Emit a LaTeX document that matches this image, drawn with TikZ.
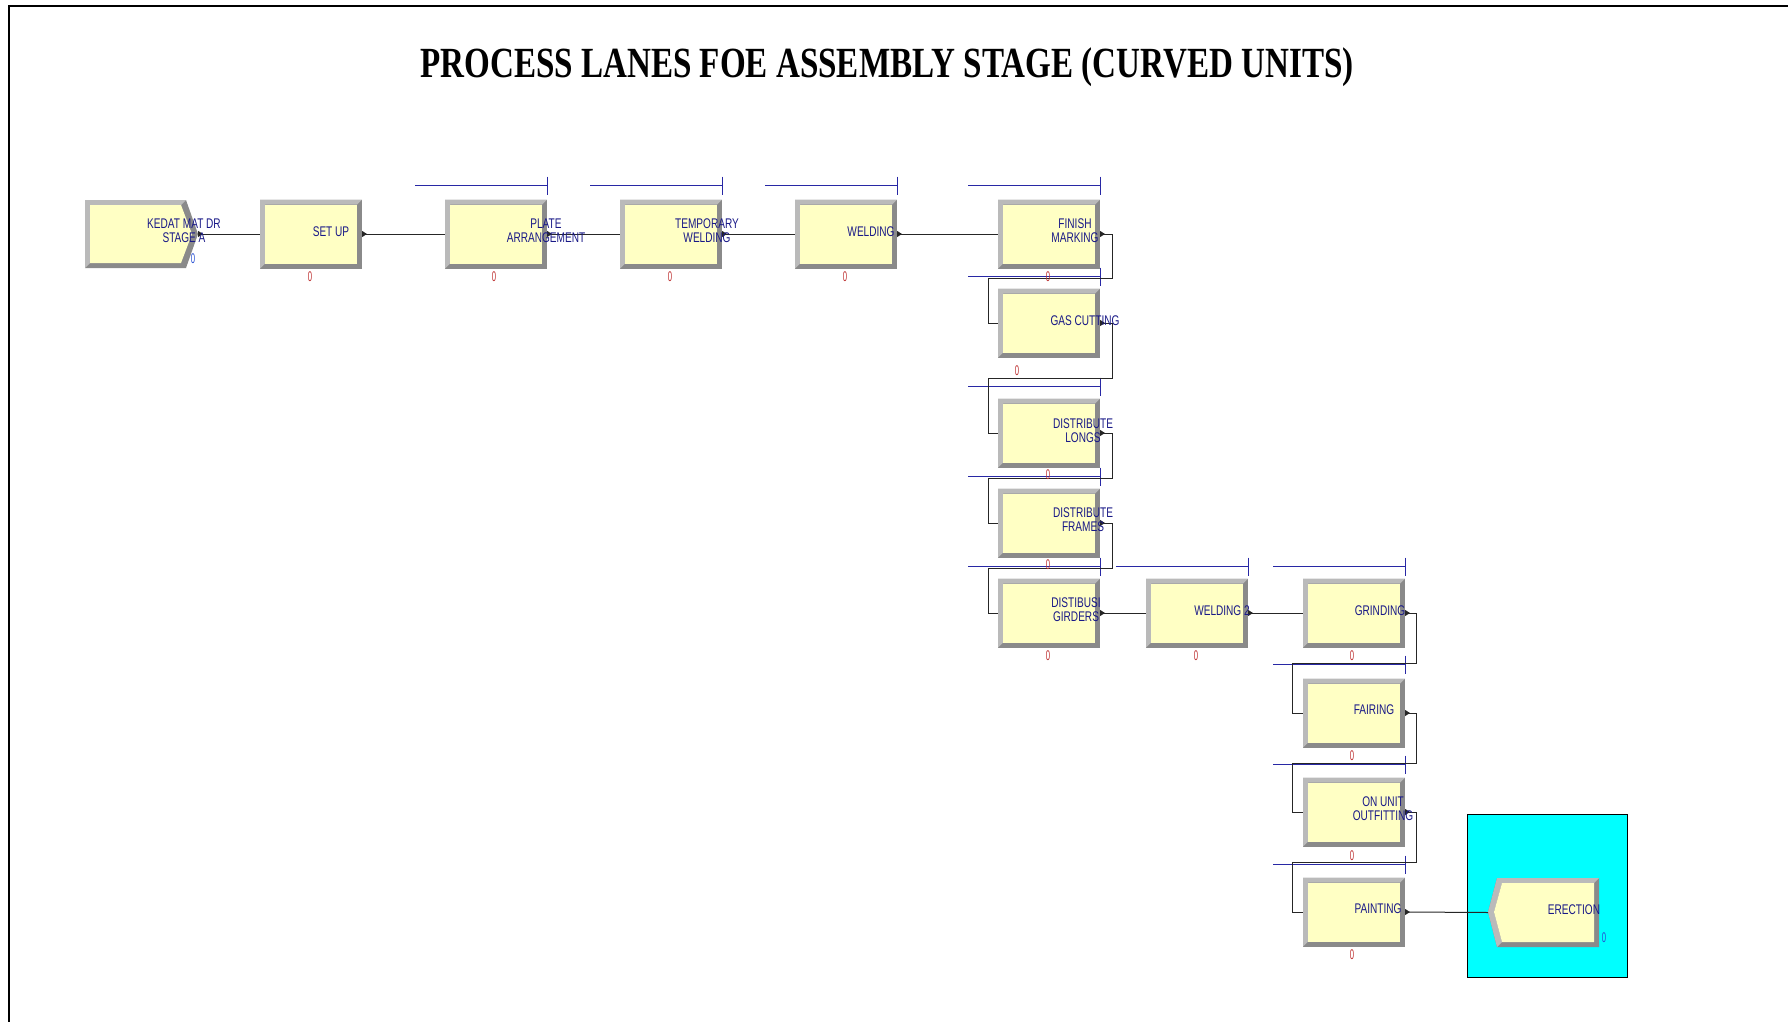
\documentclass[tikz,border=0pt]{standalone}
\usepackage{fontspec}
\setmainfont{Liberation Serif}
\newfontfamily\arenafont[FakeStretch=0.72]{Liberation Sans}
\newfontfamily\cntfont[FakeStretch=0.55]{Liberation Sans}
\newfontfamily\titlefont[FakeStretch=0.77]{Liberation Serif}
\usetikzlibrary{arrows.meta,calc}
\definecolor{boxyellow}{RGB}{255,255,196}
\definecolor{bevlight}{RGB}{186,186,186}
\definecolor{bevdark}{RGB}{138,138,138}
\definecolor{qblue}{RGB}{40,40,165}
\definecolor{txtnavy}{RGB}{25,25,135}
\definecolor{cntred}{RGB}{190,50,50}
\definecolor{cntblue}{RGB}{40,80,210}
\definecolor{dispcyan}{RGB}{0,255,255}
\begin{document}
\begin{tikzpicture}[x=1pt,y=-1pt,line join=miter,
	procbox/.style={rectangle,minimum width=102pt,minimum height=69pt,inner sep=0pt,outer sep=0pt,fill=bevdark,
		path picture={
			\path (path picture bounding box.south west) coordinate (bbsw)
			(path picture bounding box.north east) coordinate (bbne)
			(bbsw |- bbne) coordinate (bbnw);
			\fill[bevlight] (bbsw) -- (bbnw) -- (bbne) -- ([xshift=-5pt,yshift=-5pt]bbne)
			-- ([xshift=5pt,yshift=-5pt]bbnw) -- ([xshift=5pt,yshift=5pt]bbsw) -- cycle;
			\fill[boxyellow] ([xshift=5pt,yshift=5pt]bbsw) rectangle ([xshift=-5pt,yshift=-5pt]bbne);
	}},
	endbox/.style={rectangle,inner sep=0pt,outer sep=0pt},
	lbl/.style={font=\arenafont\fontsize{14}{14}\selectfont,text=txtnavy,align=center,inner sep=0pt},
	cnt/.style={font=\cntfont\fontsize{14}{14}\selectfont,text=cntred,inner sep=0pt},
	qline/.style={draw=qblue,line width=1pt},
	link/.style={draw=black!85,line width=1pt,{Triangle[reversed,length=5pt,width=6pt]}-}]
	\useasboundingbox (0,0) rectangle (1788,1022);
	\draw[line width=1.5pt] (9,1022) -- (9,6) -- (1788,6);
	\node[font=\titlefont\bfseries\fontsize{43}{43}\selectfont,anchor=base,inner sep=0pt] (title) at (887,78)
	{PROCESS LANES FOE ASSEMBLY STAGE (CURVED UNITS)};
	% Create
	\fill[bevdark] (85,200) -- (186,200) -- (198,234) -- (186,268) -- (85,268) -- cycle;
	\fill[bevlight] (85,200) -- (186,200) -- (181,205) -- (90,205) -- (90,263) -- (85,268) -- cycle;
	\fill[boxyellow] (90,205) -- (181,205) -- (192,234) -- (181,263) -- (90,263) -- cycle;
	\node[endbox,minimum width=113pt,minimum height=68pt] (kedat) at (141.5,234) {};
	% Process
	\node[procbox] (setup) at (311,234) {};
	\node[procbox] (plate) at (496,234) {};
	\node[procbox] (temp) at (671,234) {};
	\node[procbox] (weld) at (846,234) {};
	\node[procbox] (finish) at (1049,234) {};
	\node[procbox] (gas) at (1049,323) {};
	\node[procbox] (longs) at (1049,433) {};
	\node[procbox] (frames) at (1049,523) {};
	\node[procbox] (gird) at (1049,613) {};
	\node[procbox] (weld2) at (1197,613) {};
	\node[procbox] (grind) at (1354,613) {};
	\node[procbox] (fair) at (1354,713) {};
	\node[procbox] (onunit) at (1354,812) {};
	\node[procbox] (paint) at (1354,912) {};
	% Dispose
	\draw[fill=dispcyan,line width=1pt] (1467,814) rectangle (1627,977);
	\fill[bevdark] (1497,878) -- (1599,878) -- (1599,947) -- (1497,947) -- (1488,912) -- cycle;
	\fill[bevlight] (1497,878) -- (1599,878) -- (1594,883) -- (1502,883) -- (1494,912) -- (1502,942) -- (1497,947) -- (1488,912) -- cycle;
	\fill[boxyellow] (1502,883) -- (1594,883) -- (1594,942) -- (1502,942) -- (1494,912) -- cycle;
	\node[endbox,minimum width=111pt,minimum height=69pt] (erect) at (1543.5,912.5) {};
	% Queue
	\draw[qline] (plate.north east) ++(-132,-14) -- ++(132,0) ++(0,-9) -- ++(0,18);
	\draw[qline] (temp.north east) ++(-132,-14) -- ++(132,0) ++(0,-9) -- ++(0,18);
	\draw[qline] (weld.north east) ++(-132,-14) -- ++(132,0) ++(0,-9) -- ++(0,18);
	\draw[qline] (finish.north east) ++(-132,-14) -- ++(132,0) ++(0,-9) -- ++(0,18);
	\draw[qline] (gas.north east) ++(-132,-12) -- ++(132,0) ++(0,-9) -- ++(0,18);
	\draw[qline] (longs.north east) ++(-132,-12) -- ++(132,0) ++(0,-9) -- ++(0,18);
	\draw[qline] (frames.north east) ++(-132,-12) -- ++(132,0) ++(0,-9) -- ++(0,18);
	\draw[qline] (gird.north east) ++(-132,-12) -- ++(132,0) ++(0,-9) -- ++(0,18);
	\draw[qline] (weld2.north east) ++(-132,-12) -- ++(132,0) ++(0,-9) -- ++(0,18);
	\draw[qline] (grind.north east) ++(-132,-12) -- ++(132,0) ++(0,-9) -- ++(0,18);
	\draw[qline] (fair.north east) ++(-132,-14) -- ++(132,0) ++(0,-9) -- ++(0,18);
	\draw[qline] (onunit.north east) ++(-132,-13) -- ++(132,0) ++(0,-9) -- ++(0,18);
	\draw[qline] (paint.north east) ++(-132,-13) -- ++(132,0) ++(0,-9) -- ++(0,18);
	% Connect
	\draw[link] (kedat.east) -- (setup.west);
	\draw[link] (setup.east) -- (plate.west);
	\draw[link] (plate.east) -- (temp.west);
	\draw[link] (temp.east) -- (weld.west);
	\draw[link] (weld.east) -- (finish.west);
	\draw[link] (finish.east) -- ++(12,0) |- ++(-124,44) |- (gas.west);
	\draw[link] (gas.east) -- ++(12,0) |- ++(-124,55) |- (longs.west);
	\draw[link] (longs.east) -- ++(12,0) |- ++(-124,45) |- (frames.west);
	\draw[link] (frames.east) -- ++(12,0) |- ++(-124,45) |- (gird.west);
	\draw[link] (gird.east) -- (weld2.west);
	\draw[link] (weld2.east) -- (grind.west);
	\draw[link] (grind.east) -- ++(11,0) |- ++(-124,50) |- (fair.west);
	\draw[link] (fair.east) -- ++(11,0) |- ++(-124,50) |- (onunit.west);
	\draw[link] (onunit.east) -- ++(11,0) |- ++(-124,50) |- (paint.west);
	\draw[link] (paint.east) -- (erect.west);
	% Labels
	\node[lbl] (kedatT) at (184,231) {KEDAT MAT DR\\STAGE A};
	\node[lbl] (setupT) at (331,232) {SET UP};
	\node[lbl] (plateT) at (546,231) {PLATE\\ARRANGEMENT};
	\node[lbl] (tempT) at (707,231) {TEMPORARY\\WELDING};
	\node[lbl] (weldT) at (871,232) {WELDING};
	\node[lbl] (finishT) at (1075,231) {FINISH\\MARKING};
	\node[lbl] (gasT) at (1085,321) {GAS CUTTING};
	\node[lbl] (longsT) at (1083,431) {DISTRIBUTE\\LONGS};
	\node[lbl] (framesT) at (1083,520) {DISTRIBUTE\\FRAMES};
	\node[lbl] (girdT) at (1076,610) {DISTIBUSI\\GIRDERS};
	\node[lbl] (weld2T) at (1222,611) {WELDING 2};
	\node[lbl] (grindT) at (1380,611) {GRINDING};
	\node[lbl] (fairT) at (1374,710) {FAIRING};
	\node[lbl] (onunitT) at (1383,809) {ON UNIT\\OUTFITTING};
	\node[lbl] (paintT) at (1378,909) {PAINTING};
	\node[lbl] (erectT) at (1574,910) {ERECTION};
	% Counters
	\node[cnt,text=cntblue] (kedatC) at (193,259) {0};
	\node[cnt] (setupC) at (310,277) {0};
	\node[cnt] (plateC) at (494,277) {0};
	\node[cnt] (tempC) at (670,277) {0};
	\node[cnt] (weldC) at (845,277) {0};
	\node[cnt] (finishC) at (1048,277) {0};
	\node[cnt] (gasC) at (1017,371) {0};
	\node[cnt] (longsC) at (1048,475) {0};
	\node[cnt] (framesC) at (1048,565) {0};
	\node[cnt] (girdC) at (1048,656) {0};
	\node[cnt] (weld2C) at (1196,656) {0};
	\node[cnt] (grindC) at (1352,656) {0};
	\node[cnt] (fairC) at (1352,756) {0};
	\node[cnt] (onunitC) at (1352,856) {0};
	\node[cnt] (paintC) at (1352,955) {0};
	\node[cnt,text=cntblue] (erectC) at (1604,938) {0};
\end{tikzpicture}
\end{document}
